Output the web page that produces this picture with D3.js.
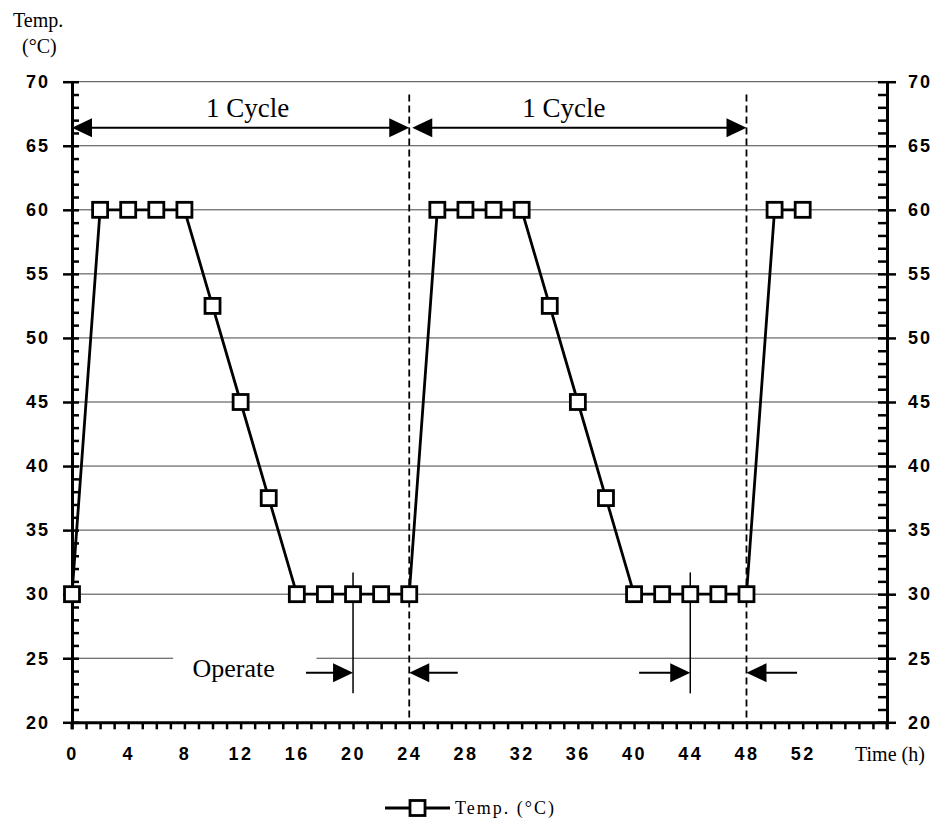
<!DOCTYPE html>
<html>
<head>
<meta charset="utf-8">
<script src="https://cdn.jsdelivr.net/npm/d3@7"></script>
<style>
  html, body { margin: 0; padding: 0; background: #fff; }
  svg { display: block; }
</style>
</head>
<body>
<svg id="chart" width="933" height="822"></svg>
<script>
// ---- data ----
const timeHours = [0, 2, 4, 6, 8, 10, 12, 14, 16, 18, 20, 22, 24, 26, 28, 30, 32, 34, 36, 38, 40, 42, 44, 46, 48, 50, 52];
const tempValues = [30, 60, 60, 60, 60, 52.5, 45, 37.5, 30, 30, 30, 30, 30, 60, 60, 60, 60, 52.5, 45, 37.5, 30, 30, 30, 30, 30, 60, 60];
const xTickLabels = [0, 4, 8, 12, 16, 20, 24, 28, 32, 36, 40, 44, 48, 52];
const yTickLabels = [20, 25, 30, 35, 40, 45, 50, 55, 60, 65, 70];
const cycleBounds = [0, 24, 48];
const cycleLabels = ["1 Cycle", "1 Cycle"];
const operateStarts = [20, 44];
const seriesName = "Temp. (°C)";

const svg = d3.select("#chart");
const x = d3.scaleLinear().domain([0, 58]).range([72, 887]);
const y = d3.scaleLinear().domain([20, 70]).range([722.3, 81.7]);

const serif = "'Liberation Serif', 'Times New Roman', serif";
const sans = "'Liberation Sans', Arial, sans-serif";

// ---- gridlines ----
const grid = svg.append("g");
yTickLabels.filter(v => v > 20).forEach(v => {
  if (v === 25) {
    grid.append("line").attr("x1", x(0)).attr("x2", x(7.2)).attr("y1", y(v)).attr("y2", y(v));
    grid.append("line").attr("x1", x(17.4)).attr("x2", x(58)).attr("y1", y(v)).attr("y2", y(v));
  } else {
    grid.append("line").attr("x1", x(0)).attr("x2", x(58)).attr("y1", y(v)).attr("y2", y(v));
  }
});
grid.selectAll("line").attr("stroke", "#444").attr("stroke-width", 1);

// ---- dashed cycle boundaries ----
cycleBounds.slice(1).forEach(t => {
  svg.append("line").attr("x1", x(t)).attr("x2", x(t))
    .attr("y1", y(69)).attr("y2", y(20))
    .attr("stroke", "#000").attr("stroke-width", 1.8)
    .attr("stroke-dasharray", "7,4");
});

// ---- arrow helper ----
function arrowHead(tipX, tipY, dir) { // dir: -1 left, +1 right
  const L = 20, H = 9.5;
  return [[tipX, tipY], [tipX - dir * L, tipY - H], [tipX - dir * L, tipY + H]];
}
function drawHead(pts) {
  svg.append("polygon").attr("points", pts.map(p => p.join(",")).join(" ")).attr("fill", "#000");
}

// ---- cycle arrows ----
const cycY = y(66.4);
const cycleTextX = [12.5, 35];
for (let i = 0; i < cycleBounds.length - 1; i++) {
  const a = x(cycleBounds[i]) + (i > 0 ? 3 : 0), b = x(cycleBounds[i + 1]);
  svg.append("line").attr("x1", a + 5).attr("x2", b - 5).attr("y1", cycY).attr("y2", cycY)
    .attr("stroke", "#000").attr("stroke-width", 2);
  drawHead(arrowHead(a, cycY, -1));
  drawHead(arrowHead(b, cycY, 1));
  svg.append("text").attr("x", x(cycleTextX[i])).attr("y", y(66.4) - 11)
    .attr("text-anchor", "middle").attr("font-family", serif).attr("font-size", 27)
    .text(cycleLabels[i]);
}

// ---- operate markers ----
const opY = y(23.87);
const opTails = [[16.65, 27.45], [40.36, 51.6]];
operateStarts.forEach((t, i) => {
  svg.append("line").attr("x1", x(t)).attr("x2", x(t)).attr("y1", y(31.7)).attr("y2", y(22.26))
    .attr("stroke", "#000").attr("stroke-width", 1.5);
  const end = t + 4;
  svg.append("line").attr("x1", x(opTails[i][0])).attr("x2", x(t) - 10).attr("y1", opY).attr("y2", opY)
    .attr("stroke", "#000").attr("stroke-width", 2);
  drawHead(arrowHead(x(t), opY, 1));
  svg.append("line").attr("x1", x(end) + 10).attr("x2", x(opTails[i][1])).attr("y1", opY).attr("y2", opY)
    .attr("stroke", "#000").attr("stroke-width", 2);
  drawHead(arrowHead(x(end), opY, -1));
});
svg.append("text").attr("x", x(11.5)).attr("y", y(23.5)).attr("text-anchor", "middle")
  .attr("font-family", serif).attr("font-size", 26).text("Operate");

// ---- axes ----
function styleAxis(g, sw) {
  g.select(".domain").attr("stroke-width", 3);
  g.selectAll(".tick line").attr("stroke-width", sw);
}
// left axis
const leftMinor = svg.append("g").attr("transform", `translate(${x(0)},0)`)
  .call(d3.axisRight(y).tickValues(d3.range(20, 71, 1)).tickSize(7).tickSizeOuter(0).tickFormat(""));
styleAxis(leftMinor, 2.5);
const leftMajor = svg.append("g").attr("transform", `translate(${x(0)},0)`)
  .call(d3.axisLeft(y).tickValues(yTickLabels).tickSize(9).tickSizeOuter(0).tickPadding(13));
styleAxis(leftMajor, 2.5);
leftMajor.selectAll("text").attr("font-family", sans).attr("font-weight", "bold")
  .attr("font-size", 18).attr("letter-spacing", "2px").attr("fill", "#000");

// right axis
const rightMinor = svg.append("g").attr("transform", `translate(${x(58)},0)`)
  .call(d3.axisLeft(y).tickValues(d3.range(20, 71, 1)).tickSize(9).tickSizeOuter(0).tickFormat(""));
styleAxis(rightMinor, 2.5);
const rightMajor = svg.append("g").attr("transform", `translate(${x(58)},0)`)
  .call(d3.axisRight(y).tickValues(yTickLabels).tickSize(9).tickSizeOuter(0).tickPadding(12));
styleAxis(rightMajor, 2.5);
rightMajor.selectAll("text").attr("font-family", sans).attr("font-weight", "bold")
  .attr("font-size", 18).attr("letter-spacing", "2px").attr("fill", "#000");

// bottom axis
const bottomMinor = svg.append("g").attr("transform", `translate(0,${y(20)})`)
  .call(d3.axisBottom(x).tickValues(d3.range(0, 59, 1)).tickSize(7).tickSizeOuter(0).tickFormat(""));
styleAxis(bottomMinor, 2.5);
const bottomMajor = svg.append("g").attr("transform", `translate(0,${y(20)})`)
  .call(d3.axisBottom(x).tickValues(xTickLabels).tickSize(0).tickSizeOuter(0).tickPadding(25));
bottomMajor.select(".domain").remove();
bottomMajor.selectAll("text").attr("font-family", sans).attr("font-weight", "bold")
  .attr("font-size", 18).attr("letter-spacing", "2.5px").attr("fill", "#000");
// extend axis corners down
svg.append("line").attr("x1", x(0)).attr("x2", x(0)).attr("y1", y(20)).attr("y2", y(20) + 7)
  .attr("stroke", "#000").attr("stroke-width", 3);
svg.append("line").attr("x1", x(58)).attr("x2", x(58)).attr("y1", y(20)).attr("y2", y(20) + 7)
  .attr("stroke", "#000").attr("stroke-width", 3);

// ---- series ----
const pts = timeHours.map((t, i) => [t, tempValues[i]]);
svg.append("path").datum(pts)
  .attr("d", d3.line().x(d => x(d[0])).y(d => y(d[1])))
  .attr("fill", "none").attr("stroke", "#000").attr("stroke-width", 2.8);
const ms = 15;
svg.append("g").selectAll("rect").data(pts).join("rect")
  .attr("x", d => x(d[0]) - ms / 2).attr("y", d => y(d[1]) - ms / 2)
  .attr("width", ms).attr("height", ms)
  .attr("fill", "#fff").attr("stroke", "#000").attr("stroke-width", 2.8);

// ---- axis titles ----
svg.append("text").attr("x", 13).attr("y", 27).attr("font-family", serif).attr("font-size", 20).text("Temp.");
svg.append("text").attr("x", 22).attr("y", 53).attr("font-family", serif).attr("font-size", 20).text("(°C)");
svg.append("text").attr("x", 855).attr("y", 761).attr("font-family", serif).attr("font-size", 20).text("Time (h)");

// ---- legend ----
const lg = svg.append("g").attr("transform", "translate(385,808)");
lg.append("line").attr("x1", 0).attr("x2", 65).attr("y1", 0).attr("y2", 0)
  .attr("stroke", "#000").attr("stroke-width", 2.8);
lg.append("rect").attr("x", 32.5 - 7.5).attr("y", -7.5).attr("width", 15).attr("height", 15)
  .attr("fill", "#fff").attr("stroke", "#000").attr("stroke-width", 2.8);
lg.append("text").attr("x", 70).attr("y", 6).attr("font-family", serif).attr("font-size", 18)
  .attr("letter-spacing", "2px").text(seriesName);
</script>
</body>
</html>
